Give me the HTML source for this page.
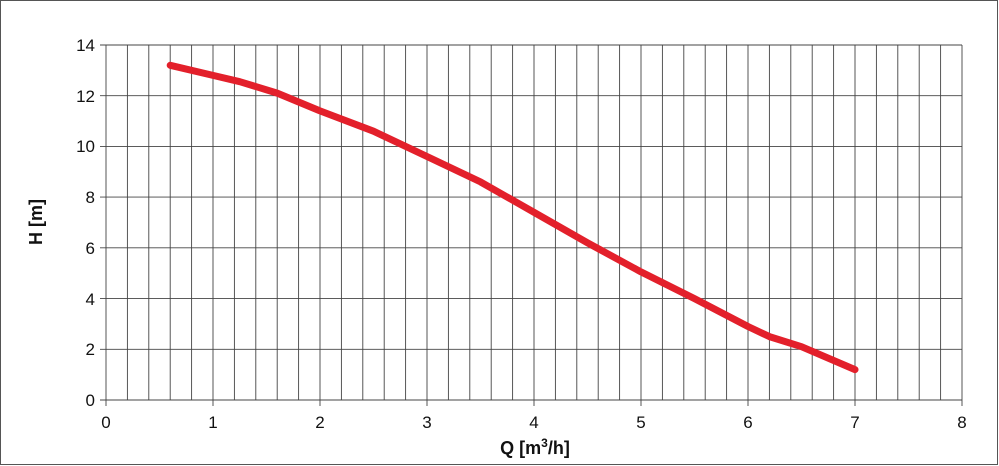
<!DOCTYPE html><html><head><style>body{margin:0;background:#fff}svg{display:block}text{font-family:"Liberation Sans",Arial,sans-serif;fill:#111}</style></head><body>
<svg width="999" height="466" viewBox="0 0 999 466" xmlns="http://www.w3.org/2000/svg">
<rect x="0.5" y="0.5" width="997" height="464" fill="#fff" stroke="#555" stroke-width="1"/>
<path fill="none" stroke="#444" stroke-width="0.9" d="M106 45V406M127.4 45V400M148.8 45V400M170.2 45V400M191.6 45V400M213 45V406M234.4 45V400M255.8 45V400M277.2 45V400M298.6 45V400M320 45V406M341.4 45V400M362.8 45V400M384.2 45V400M405.6 45V400M427 45V406M448.4 45V400M469.8 45V400M491.2 45V400M512.6 45V400M534 45V406M555.4 45V400M576.8 45V400M598.2 45V400M619.6 45V400M641 45V406M662.4 45V400M683.8 45V400M705.2 45V400M726.6 45V400M748 45V406M769.4 45V400M790.8 45V400M812.2 45V400M833.6 45V400M855 45V406M876.4 45V400M897.8 45V400M919.2 45V400M940.6 45V400M962 45V406M100 400H962M100 349.3H962M100 298.6H962M100 247.8H962M100 197.1H962M100 146.4H962M100 95.7H962M100 45H962"/>
<g font-size="17" text-anchor="end">
<text x="95" y="406">0</text><text x="95" y="355">2</text><text x="95" y="305">4</text><text x="95" y="254">6</text><text x="95" y="203">8</text><text x="95" y="152">10</text><text x="95" y="102">12</text><text x="95" y="51">14</text>
</g>
<g font-size="17" text-anchor="middle">
<text x="106" y="428">0</text><text x="213" y="428">1</text><text x="320" y="428">2</text><text x="427" y="428">3</text><text x="534" y="428">4</text><text x="641" y="428">5</text><text x="748" y="428">6</text><text x="855" y="428">7</text><text x="962" y="428">8</text>
</g>
<polyline fill="none" stroke="#e3202b" stroke-width="7" stroke-linecap="round" stroke-linejoin="round" points="170.2,65.3 213,75.4 239.8,81.7 277.2,93.1 320,110.9 373.5,131.2 427,156.5 480.5,181.9 534,212.3 587.5,242.8 641,271.9 694.5,298.6 748,326.5 769.4,336.6 801.5,346.7 855,369.6"/>
<text x="535" y="454" font-size="18" font-weight="bold" text-anchor="middle">Q [m<tspan font-size="12" dy="-7">3</tspan><tspan dy="7">/h]</tspan></text>
<text transform="translate(42,222) rotate(-90)" font-size="18" font-weight="bold" text-anchor="middle">H [m]</text>
</svg></body></html>
